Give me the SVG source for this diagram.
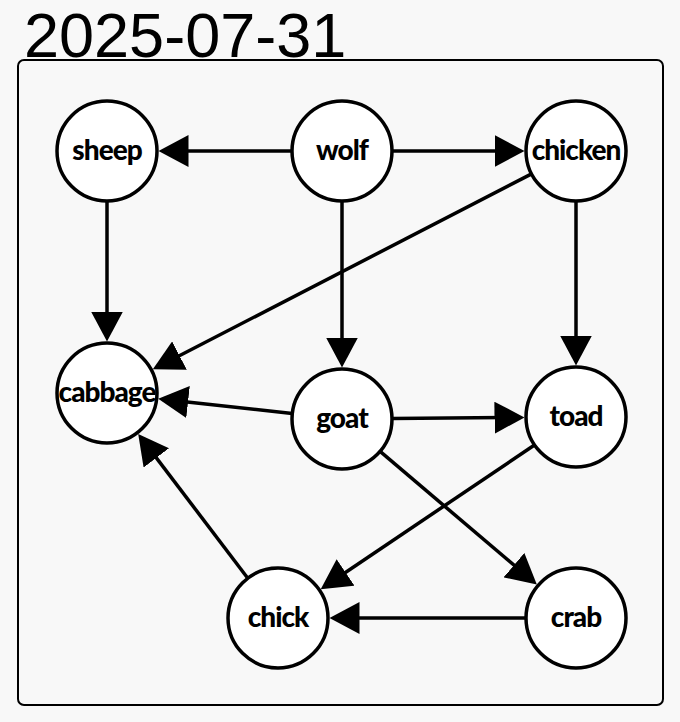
<svg xmlns="http://www.w3.org/2000/svg" width="680" height="722" viewBox="0 0 680 722">
<style>
.node circle{fill:#fff;stroke:#000;stroke-width:3.5}
.node text{font-family:Lato,"Noto Sans",sans-serif;font-weight:900;font-size:28px;letter-spacing:-1px;text-anchor:middle;dominant-baseline:central;fill:#000}
#edges line{stroke:#000;stroke-width:3.5;marker-end:url(#ah)}
</style>
<defs>
<marker id="ah" markerUnits="userSpaceOnUse" viewBox="0 0 30 32" refX="10" refY="16" markerWidth="30" markerHeight="32" orient="auto">
<path d="M0,0 L30,16 L0,32 Z" fill="#000"/>
</marker>
</defs>
<rect x="0" y="0" width="680" height="722" fill="#f8f8f8"/>
<rect x="18" y="60" width="645" height="645" rx="6" fill="#f8f8f8" stroke="#000" stroke-width="2"/>
<text x="24" y="57" font-family="Liberation Sans, Arial, sans-serif" font-size="63" fill="#000">2025-07-31</text>
<g id="edges">
<line x1="292" y1="151" x2="178.5" y2="151"/>
<line x1="392" y1="151" x2="504.5" y2="151"/>
<line x1="342" y1="201" x2="342" y2="347.5"/>
<line x1="107" y1="201" x2="107" y2="321.5"/>
<line x1="576" y1="201" x2="576" y2="345.5"/>
<line x1="531.6" y1="173.9" x2="170.6" y2="360.2"/>
<line x1="292.3" y1="413.5" x2="178.1" y2="400.9"/>
<line x1="392" y1="418.6" x2="504.5" y2="417.6"/>
<line x1="380.1" y1="451.4" x2="521.6" y2="571.6"/>
<line x1="534.5" y1="445" x2="337.3" y2="578"/>
<line x1="247.8" y1="578.2" x2="150.3" y2="449.9"/>
<line x1="526" y1="618" x2="349.5" y2="618"/>
</g>
<g id="sheep" class="node"><circle cx="107" cy="151" r="50"/><text x="107" y="149">sheep</text></g>
<g id="wolf" class="node"><circle cx="342" cy="151" r="50"/><text x="342" y="149">wolf</text></g>
<g id="chicken" class="node"><circle cx="576" cy="151" r="50"/><text x="576" y="149">chicken</text></g>
<g id="cabbage" class="node"><circle cx="107" cy="393" r="50"/><text x="107" y="391">cabbage</text></g>
<g id="goat" class="node"><circle cx="342" cy="419" r="50"/><text x="342" y="417">goat</text></g>
<g id="toad" class="node"><circle cx="576" cy="417" r="50"/><text x="576" y="415">toad</text></g>
<g id="chick" class="node"><circle cx="278" cy="618" r="50"/><text x="278" y="616">chick</text></g>
<g id="crab" class="node"><circle cx="576" cy="618" r="50"/><text x="576" y="616">crab</text></g>
</svg>
